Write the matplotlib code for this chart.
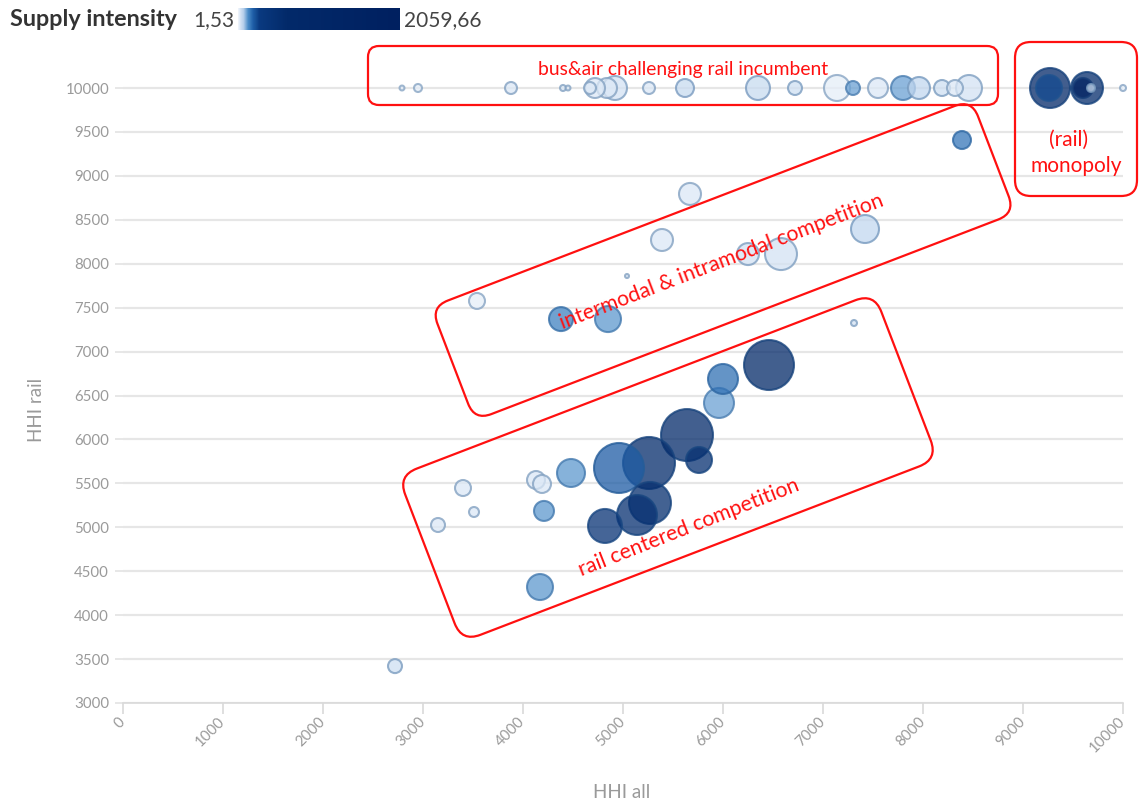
import numpy as np
import matplotlib
matplotlib.use("Agg")
import matplotlib.pyplot as plt
from matplotlib.colors import LinearSegmentedColormap, Normalize, to_rgba
from matplotlib.patches import FancyBboxPatch
from matplotlib.transforms import Affine2D

# ---------------- data ----------------
hhi_all = [2790, 2950, 3880, 4400, 4450, 4670, 4720, 4840, 4920, 5260, 5620, 6350,
           6720, 7140, 7300, 7550, 7800, 7960, 8190, 8320, 8460,
           9270, 9260, 9640, 9600, 9680, 10000,
           8390, 5670, 5390, 5040, 6250, 6580, 7420, 3540, 4380, 4850, 7310,
           6460, 6000, 5960, 5640, 5760, 5260, 4960, 4480, 4130, 4190, 3400, 3510,
           4210, 5270, 5140, 4820, 3150, 4170, 2720]
hhi_rail = [10000] * 21 + [10000] * 6 + \
           [9408, 8794, 8270, 7860, 8110, 8110, 8395, 7576, 7370, 7370, 7325,
            6847, 6688, 6415, 6050, 5766, 5732, 5675, 5618, 5538, 5493, 5447, 5174,
            5186, 5277, 5140, 5015, 5026, 4320, 3420]
# relative bubble magnitude (area)
volume = [6, 16, 36, 9, 6, 36, 100, 100, 144, 36, 81, 144,
          49, 169, 49, 100, 144, 121, 64, 64, 169,
          400, 169, 256, 100, 16, 9,
          81, 121, 121, 4, 121, 256, 196, 64, 144, 169, 9,
          625, 225, 225, 676, 169, 676, 625, 196, 81, 81, 64, 25,
          100, 441, 400, 289, 49, 169, 49]
# supply intensity (colour)
intensity = [15, 15, 20, 20, 20, 25, 20, 25, 30, 20, 45, 45,
             40, 15, 110, 25, 110, 50, 35, 25, 30,
             900, 240, 600, 2059.66, 40, 15,
             160, 25, 20, 20, 30, 30, 50, 15, 140, 120, 30,
             700, 170, 110, 650, 500, 600, 200, 120, 25, 25, 20, 25,
             120, 550, 500, 450, 20, 120, 35]
int_min, int_max = 1.53, 2059.66
y_ticks = list(range(3000, 10001, 500))
x_ticks = list(range(0, 10001, 1000))

# ---------------- style ----------------
FONT = ["Lato", "DejaVu Sans"]
plt.rcParams["font.family"] = FONT
GRAY = "#9a9a9a"
RED = "#ff1010"

cmap = LinearSegmentedColormap.from_list("supply", [
    (0.0, "#eef4fb"), (0.012, "#d3e2f3"), (0.03, "#b9d1ec"), (0.06, "#4a8cc8"),
    (0.09, "#1f5fa8"), (0.13, "#0a3a80"), (0.3, "#032a6a"), (1.0, "#002060")])
norm = Normalize(int_min, int_max)

W, H = 1139, 806
fig = plt.figure(figsize=(W / 100, H / 100), dpi=100)

# main axes: x 0..10000 -> px 123..1123 ; y 3000 at py 703, 10000 at py 88
px_per_y = 615 / 7000
ytop = 10000 + (88 - 74) / px_per_y
ax = fig.add_axes([123 / W, (H - 703) / H, 1000 / W, (703 - 74) / H])
ax.set_xlim(0, 10000)
ax.set_ylim(3000, ytop)

for s in ["top", "right", "left"]:
    ax.spines[s].set_visible(False)
ax.spines["bottom"].set_color("#d9d9d9")
ax.spines["bottom"].set_linewidth(1.2)

ax.set_yticks(y_ticks)
ax.set_xticks(x_ticks)
ax.yaxis.grid(True, color="#e6e6e6", linewidth=1.6)
ax.set_axisbelow(True)
ax.tick_params(axis="y", length=6, width=1.2, color="#e3e3e3", pad=4,
               labelsize=10.8, labelcolor=GRAY)
ax.tick_params(axis="x", length=8, width=1.2, color="#d9d9d9", pad=4,
               labelsize=10.8, labelcolor=GRAY)
for lab in ax.get_xticklabels():
    lab.set_rotation(45)
    lab.set_ha("right")
    lab.set_va("center")
    lab.set_rotation_mode("anchor")

fig.text(622 / W, 1 - 793 / H, "HHI all", fontsize=13.5, color=GRAY,
         ha="center", va="center")
fig.text(37 / W, 1 - 410 / H, "HHI rail", fontsize=13.5, color=GRAY,
         ha="center", va="center", rotation=90)

# bubbles
vol = np.array(volume, dtype=float)
order = np.argsort(-vol)
xs = np.array(hhi_all, dtype=float)[order]
ys = np.array(hhi_rail, dtype=float)[order]
vs = vol[order]
iv = np.array(intensity, dtype=float)[order]
edge_base = np.array(to_rgba("#2b5c8f"))
faces, edges = [], []
for v in iv:
    c = np.array(cmap(norm(v)))
    f = c.copy(); f[3] = 0.75
    e = 0.5 * c + 0.5 * edge_base; e[3] = 0.8
    faces.append(f); edges.append(e)
ax.scatter(xs, ys, s=vs * 2.07, c=faces, edgecolors=edges, linewidths=1.5,
           clip_on=False, zorder=3)

# ---------------- legend (colour scale) ----------------
fig.text(10 / W, 1 - 20 / H, "Supply intensity", fontsize=16.8, fontweight="bold",
         color="#333333", va="center", ha="left")
fig.text(193 / W, 1 - 20 / H, "1,53", fontsize=15, color="#444444",
         va="center", ha="left")
fig.text(404 / W, 1 - 20 / H, "2059,66", fontsize=15, color="#444444",
         va="center", ha="left")
cax = fig.add_axes([238 / W, (H - 30) / H, 162 / W, 22 / H])
grad = np.linspace(int_min, int_max, 400).reshape(1, -1)
cax.imshow(grad, aspect="auto", cmap=cmap, norm=norm,
           extent=[int_min, int_max, 0, 1])
cax.set_axis_off()

# ---------------- annotation overlay (pixel coordinates) ----------------
ov = fig.add_axes([0, 0, 1, 1], zorder=10)
ov.set_xlim(0, W)
ov.set_ylim(H, 0)
ov.set_axis_off()
ov.patch.set_alpha(0)


def rbox(x, y, w, h, r, ang=0.0):
    tr = Affine2D().rotate_deg(-ang).translate(x, y) + ov.transData
    p = FancyBboxPatch((0, 0), w, h, boxstyle=f"round,pad=0,rounding_size={r}",
                       transform=tr, fill=False, edgecolor=RED, linewidth=1.6)
    ov.add_patch(p)


rbox(368, 46, 630, 59, 11)
rbox(1015, 42, 122, 154, 16)
rbox(431, 307, 579, 121.6, 18, 21)
rbox(398, 475.8, 510, 178, 20, 21)

ov.text(683, 69, "bus&air challenging rail incumbent", color=RED, fontsize=13.9,
        ha="center", va="center")
ov.text(1069, 140, "(rail)", color=RED, fontsize=15, ha="center", va="center")
ov.text(1076, 166, "monopoly", color=RED, fontsize=15, ha="center", va="center")
ov.text(722, 262, "intermodal & intramodal competition", color=RED, fontsize=15.3,
        ha="center", va="center", rotation=21, rotation_mode="anchor")
ov.text(689, 528, "rail centered competition", color=RED, fontsize=15.3,
        ha="center", va="center", rotation=21.5, rotation_mode="anchor")

fig.savefig("out.png", dpi=100)
